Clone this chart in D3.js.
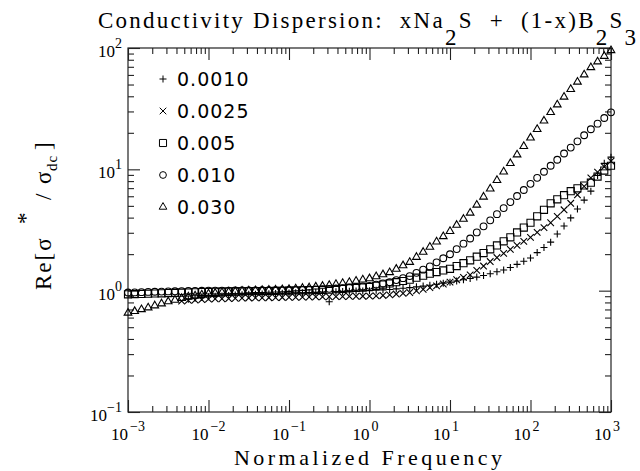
<!DOCTYPE html>
<html>
<head>
<meta charset="utf-8">
<script src="https://cdn.jsdelivr.net/npm/d3@7"></script>
<style>
  body { margin: 0; background: #fff; }
  text { white-space: pre; }
</style>
</head>
<body>
<div id="chart"></div>
<script>
// normalized frequency grid (12 points per decade)
var freq = [
  0.001,0.00121,0.00147,0.00178,0.00215,0.00261,0.00316,0.00383,0.00464,0.00562,0.00681,0.00825,
  0.01,0.0121,0.0147,0.0178,0.0215,0.0261,0.0316,0.0383,0.0464,0.0562,0.0681,0.0825,
  0.1,0.121,0.147,0.178,0.215,0.261,0.316,0.383,0.464,0.562,0.681,0.825,
  1,1.21,1.47,1.78,2.15,2.61,3.16,3.83,4.64,5.62,6.81,8.25,
  10,12.1,14.7,17.8,21.5,26.1,31.6,38.3,46.4,56.2,68.1,82.5,
  100,121,147,178,215,261,316,383,464,562,681,825,
  1000
];

// Re[sigma*/sigma_dc] for each composition x
var x0010 = [
  null,null,null,null,null,null,null,null,null,0.851,0.865,0.877,
  0.891,0.898,0.905,0.912,0.919,0.926,0.933,0.936,0.940,0.944,0.947,0.951,
  0.955,0.959,0.962,0.966,0.970,0.974,0.81,0.981,0.985,0.989,0.992,0.996,
  1.0,1.008,1.016,1.023,1.035,1.047,1.059,1.075,1.091,1.109,1.130,1.153,
  1.175,1.202,1.230,1.259,1.294,1.334,1.380,1.43,1.48,1.55,1.648,1.75,
  1.86,2.06,2.27,2.51,2.93,3.41,3.98,4.71,5.58,6.61,8.91,11.2,
  12.6
];
var x0025 = [
  null,null,null,null,null,null,null,null,0.822,0.832,0.838,0.845,
  0.851,0.855,0.858,0.861,0.864,0.867,0.871,0.872,0.873,0.875,0.877,0.879,
  0.881,0.883,0.885,0.887,0.889,0.890,0.891,0.893,0.895,0.897,0.899,0.900,
  0.902,0.905,0.913,0.923,0.938,0.951,0.966,0.995,1.025,1.059,1.096,1.135,
  1.175,1.23,1.288,1.349,1.469,1.596,1.738,1.875,2.03,2.19,2.36,2.55,
  2.75,3.02,3.31,3.63,4.10,4.64,5.25,6.17,7.24,8.51,9.48,10.5,
  11.7
];
var x005 = [
  0.933,0.938,0.94,0.944,0.948,0.95,0.955,0.959,0.962,0.966,0.97,0.973,
  0.977,0.979,0.981,0.983,0.985,0.987,0.989,0.991,0.993,0.994,0.996,0.998,
  1.0,1.003,1.006,1.009,1.012,1.015,1.019,1.027,1.036,1.045,1.054,1.063,
  1.072,1.096,1.122,1.148,1.175,1.202,1.23,1.279,1.327,1.38,1.423,1.469,
  1.514,1.596,1.686,1.778,1.905,2.04,2.19,2.36,2.55,2.75,3.02,3.31,
  3.63,4.10,4.64,5.25,5.66,6.12,6.61,6.97,7.36,7.76,8.71,9.77,
  10.7
];
var x010 = [
  0.966,0.968,0.972,0.977,0.979,0.983,0.986,0.988,0.991,0.993,0.995,0.998,
  1.0,1.0,1.001,1.002,1.003,1.004,1.005,1.006,1.008,1.009,1.01,1.011,
  1.012,1.014,1.016,1.023,1.026,1.03,1.035,1.042,1.05,1.062,1.072,1.084,
  1.096,1.122,1.148,1.175,1.222,1.268,1.318,1.403,1.489,1.585,1.711,1.849,
  1.995,2.20,2.44,2.69,3.02,3.39,3.80,4.27,4.79,5.37,6.03,6.76,
  7.59,8.51,9.55,10.7,12.0,13.5,15.1,17.0,19.1,21.4,23.8,26.5,
  29.5
];
var x030 = [
  0.655,0.676,0.70,0.724,0.753,0.782,0.813,0.838,0.865,0.891,0.908,0.927,
  0.944,0.955,0.966,0.977,0.984,0.993,1.0,1.005,1.007,1.012,1.016,1.023,
  1.028,1.038,1.049,1.059,1.076,1.091,1.109,1.13,1.153,1.175,1.202,1.23,
  1.259,1.309,1.358,1.413,1.507,1.61,1.718,1.89,2.08,2.29,2.53,2.80,
  3.09,3.47,3.89,4.37,5.09,5.93,6.92,8.13,9.55,11.2,13.2,15.5,
  18.2,21.4,25.1,29.5,34.1,39.5,45.7,52.5,60.3,69.2,77.1,85.7,
  95.5
];

var legendLabels = ["0.0010", "0.0025", "0.005", "0.010", "0.030"];
var xMajor = [1e-3, 1e-2, 1e-1, 1, 10, 100, 1000];
var xExp = ["\u22123", "\u22122", "\u22121", "0", "1", "2", "3"];
var yMajor = [0.1, 1, 10, 100];
var yExp = ["\u22121", "0", "1", "2"];

// set the dimensions and margins of the graph
var margin = {top: 48, right: 29, bottom: 59, left: 128},
    width = 640 - margin.left - margin.right,
    height = 471 - margin.top - margin.bottom;

var svg = d3.select("#chart")
  .append("svg")
    .attr("width", 640)
    .attr("height", 471);

var g = svg.append("g")
    .attr("transform", "translate(" + margin.left + "," + margin.top + ")");

var x = d3.scaleLog().domain([1e-3, 1e3]).range([0, width]);
var y = d3.scaleLog().domain([0.1, 100]).range([height, 0]);

var xMinor = x.ticks().filter(function(d) { return xMajor.indexOf(d) < 0; });
var yMinor = y.ticks().filter(function(d) { return yMajor.indexOf(d) < 0; });

// frame
g.append("rect")
  .attr("width", width).attr("height", height)
  .attr("fill", "none").attr("stroke", "#222").attr("stroke-width", 1.2);

// inward ticks on all four sides
function addAxis(gen, tx, ty, vals, len) {
  var a = g.append("g")
    .attr("transform", "translate(" + tx + "," + ty + ")")
    .call(gen.tickValues(vals).tickSize(-len).tickSizeOuter(0).tickFormat(""));
  a.select(".domain").remove();
  a.selectAll("line").attr("stroke", "#222").attr("stroke-width", 1.1);
}
addAxis(d3.axisBottom(x), 0, height, xMinor, 6);
addAxis(d3.axisBottom(x), 0, height, xMajor, 12);
addAxis(d3.axisTop(x), 0, 0, xMinor, 6);
addAxis(d3.axisTop(x), 0, 0, xMajor, 12);
addAxis(d3.axisLeft(y), 0, 0, yMinor, 6);
addAxis(d3.axisLeft(y), 0, 0, yMajor, 12);
addAxis(d3.axisRight(y), width, 0, yMinor, 6);
addAxis(d3.axisRight(y), width, 0, yMajor, 12);

// tick labels (powers of ten)
var serif = "Liberation Serif, Times New Roman, serif";
xMajor.forEach(function(d, i) {
  var t = g.append("text")
    .attr("x", x(d) - 17).attr("y", height + 28)
    .attr("font-family", serif).attr("font-size", 17);
  t.append("tspan").text("10");
  t.append("tspan").attr("dx", 2).attr("dy", -9).attr("font-size", 14).text(xExp[i]);
});
yMajor.forEach(function(d, i) {
  var t = g.append("text")
    .attr("x", -6).attr("y", y(d) + 9)
    .attr("text-anchor", "end")
    .attr("font-family", serif).attr("font-size", 17);
  t.append("tspan").text("10");
  t.append("tspan").attr("dy", -9).attr("font-size", 14).text(yExp[i]);
});

// data series
var series = [
  {vals: x0010, type: d3.symbolPlus, size: 18},
  {vals: x0025, type: d3.symbolTimes, size: 30},
  {vals: x005, type: d3.symbolSquare2, size: 64},
  {vals: x010, type: d3.symbolCircle, size: 36},
  {vals: x030, type: d3.symbolTriangle2, size: 42}
];

series.forEach(function(s) {
  var pts = [];
  s.vals.forEach(function(v, i) { if (v != null) pts.push([freq[i], v]); });
  g.append("g")
    .selectAll("path")
    .data(pts)
    .enter().append("path")
      .attr("transform", function(d) { return "translate(" + x(d[0]) + "," + y(d[1]) + ")"; })
      .attr("d", d3.symbol().type(s.type).size(s.size))
      .attr("fill", "none")
      .attr("stroke", "#000")
      .attr("stroke-width", 1.1);
});

// legend
var leg = g.append("g").attr("transform", "translate(35,31)");
series.forEach(function(s, i) {
  leg.append("path")
    .attr("transform", "translate(0," + (i * 32) + ")")
    .attr("d", d3.symbol().type(s.type).size(s.size))
    .attr("fill", "none").attr("stroke", "#000").attr("stroke-width", 1);
  leg.append("text")
    .attr("x", 14).attr("y", i * 32 + 7)
    .attr("font-family", "DejaVu Sans, sans-serif")
    .attr("font-size", 19)
    .attr("letter-spacing", 1)
    .text(legendLabels[i]);
});

// title
var title = svg.append("text")
  .attr("x", 98).attr("y", 28)
  .attr("font-family", serif).attr("font-size", 23)
  .attr("textLength", 538).attr("lengthAdjust", "spacing");
title.append("tspan").text("Conductivity Dispersion:  xNa");
title.append("tspan").attr("dy", 17).text("2");
title.append("tspan").attr("dy", -17).text("S  +  (1-x)B");
title.append("tspan").attr("dy", 17).text("2");
title.append("tspan").attr("dy", -17).text("S");
title.append("tspan").attr("dy", 17).text("3");

// x label
svg.append("text")
  .attr("x", 234).attr("y", 465)
  .attr("font-family", serif).attr("font-size", 22)
  .attr("textLength", 268).attr("lengthAdjust", "spacing")
  .text("Normalized Frequency");

// y label (rotated; local x runs up the page)
var yl = svg.append("text")
  .attr("transform", "translate(51,292) rotate(-90)")
  .attr("font-family", serif).attr("font-size", 23);
yl.append("tspan").attr("x", 2).attr("y", 0).attr("letter-spacing", 2).text("Re[\u03c3");
yl.append("tspan").attr("x", 68).attr("y", -18).text("*");
yl.append("tspan").attr("x", 92).attr("y", 0).text("/");
yl.append("tspan").attr("x", 108).attr("y", 0).text("\u03c3");
yl.append("tspan").attr("x", 121).attr("y", 6).attr("font-size", 15).attr("letter-spacing", 1).text("dc");
yl.append("tspan").attr("x", 142).attr("y", 0).text("]");
</script>
</body>
</html>
